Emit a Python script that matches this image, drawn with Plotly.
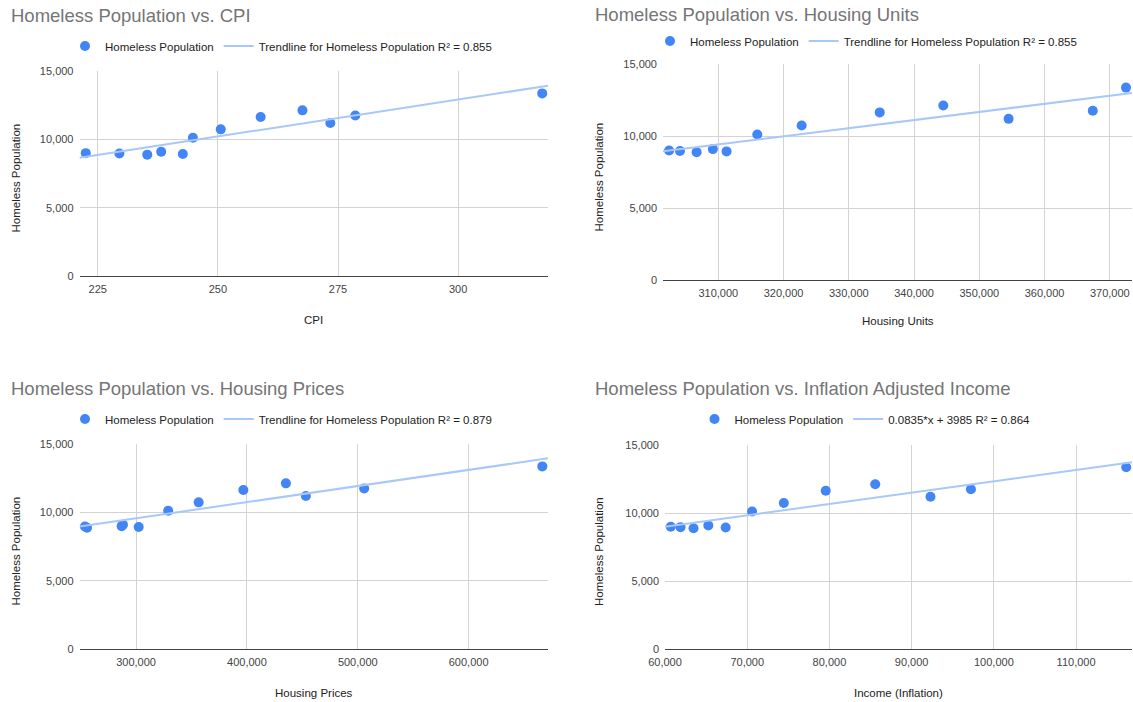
import numpy as np
import plotly.graph_objects as go

# Homeless population by year (same series on every panel)
homeless = [8990, 8960, 8880, 9090, 8930, 10110, 10730, 11640, 12120, 11190, 11750, 13360]

# Explanatory variables
cpi = [222.5, 229.5, 235.3, 238.2, 242.7, 244.8, 250.6, 258.9, 267.6, 273.4, 278.6, 317.5]
housing_units = [302470, 304130, 306680, 309170, 311270, 315980, 322780, 334740,
                 344480, 354490, 367390, 372480]
housing_prices = [287000, 253900, 255800, 288200, 302400, 329000, 356500, 396800,
                  435200, 453200, 505800, 666500]
income_inflation = [60700, 61890, 63470, 65270, 67380, 70590, 74450, 79550,
                    85570, 92290, 97210, 116100]

# Published fit for the income panel
income_slope = 0.0835
income_intercept = 3985

titles = ["Homeless Population vs. CPI",
          "Homeless Population vs. Housing Units",
          "Homeless Population vs. Housing Prices",
          "Homeless Population vs. Inflation Adjusted Income"]
x_titles = ["CPI", "Housing Units", "Housing Prices", "Income (Inflation)"]
trend_labels = ["Trendline for Homeless Population R² = 0.855",
                "Trendline for Homeless Population R² = 0.855",
                "Trendline for Homeless Population R² = 0.879",
                "0.0835*x + 3985 R² = 0.864"]
y_ticks = [0, 5000, 10000, 15000]

W, H = 1133, 702
BLUE = "#4285F4"
TREND = "#a8c7fa"
FONT = "Arial, Liberation Sans, sans-serif"


def px(x):
    return x / W


def py(y):
    return 1 - y / H


# panel geometry in pixels: (left, right, top, bottom)
boxes = [(79.5, 548, 71, 276), (663, 1132, 64, 280),
         (79.5, 548, 444, 649), (665, 1132, 445, 649)]
x_ranges = [[221.2, 318.7], [301530, 373400], [249000, 671600], [60000, 116800]]
x_dticks = [25, 10000, 100000, 10000]
legend_pos = [(281, 46), (866, 41), (281, 419), (865, 419)]
title_pos = [(9, 16), (593, 14), (9, 388), (593, 388)]
xtitle_y = [320, 321, 693, 693]
ytitle_x = [15, 598.5, 15, 599]

xs = [cpi, housing_units, housing_prices, income_inflation]

fig = go.Figure()
annotations = []
layout = {}

for i in range(4):
    sfx = "" if i == 0 else str(i + 1)
    leg = "legend" + sfx
    x = np.array(xs[i], dtype=float)
    y = np.array(homeless, dtype=float)
    if i == 3:
        slope, intercept = income_slope, income_intercept
    else:
        slope, intercept = np.polyfit(x, y, 1)
    xr = np.array(x_ranges[i], dtype=float)

    fig.add_trace(go.Scatter(
        x=x, y=y, mode="markers", name="Homeless Population",
        marker=dict(color=BLUE, size=10),
        xaxis="x" + sfx, yaxis="y" + sfx, legend=leg,
    ))
    fig.add_trace(go.Scatter(
        x=xr, y=slope * xr + intercept, mode="lines", name=trend_labels[i],
        line=dict(color=TREND, width=2),
        xaxis="x" + sfx, yaxis="y" + sfx, legend=leg,
    ))

    l, r, t, b = boxes[i]
    layout["xaxis" + sfx] = dict(
        domain=[px(l), px(r)], range=x_ranges[i], anchor="y" + sfx,
        dtick=x_dticks[i], tick0=0, tickformat=",",
        showgrid=True, gridcolor="#d3d3d3", gridwidth=1,
        showline=True, linecolor="#444444", linewidth=1,
        zeroline=False, ticks="", ticklabelstandoff=3, automargin=False,
        tickfont=dict(family=FONT, size=11, color="#444444"),
    )
    layout["yaxis" + sfx] = dict(
        domain=[py(b), py(t)], range=[0, 15000], anchor="x" + sfx,
        tickvals=y_ticks, tickformat=",",
        showgrid=True, gridcolor="#d3d3d3", gridwidth=1,
        showline=False, zeroline=False, ticks="", ticklabelstandoff=5,
        automargin=False,
        tickfont=dict(family=FONT, size=11, color="#444444"),
    )
    lx, ly = legend_pos[i]
    layout[leg] = dict(
        x=px(lx), y=py(ly), xanchor="center", yanchor="middle",
        orientation="h", bgcolor="rgba(0,0,0,0)",
        font=dict(family=FONT, size=11.5, color="#222222"),
        itemwidth=30,
    )

    tx, ty = title_pos[i]
    annotations.append(dict(
        text=titles[i], x=px(tx), y=py(ty), xref="paper", yref="paper",
        xanchor="left", yanchor="middle", showarrow=False,
        font=dict(family=FONT, size=18.5, color="#757575"),
    ))
    annotations.append(dict(
        text=x_titles[i], x=px((l + r) / 2), y=py(xtitle_y[i]),
        xref="paper", yref="paper", xanchor="center", yanchor="middle",
        showarrow=False, font=dict(family=FONT, size=11.5, color="#222222"),
    ))
    annotations.append(dict(
        text="Homeless Population", x=px(ytitle_x[i]), y=py((t + b) / 2 + 5),
        xref="paper", yref="paper", xanchor="center", yanchor="middle",
        textangle=-90, showarrow=False,
        font=dict(family=FONT, size=11.5, color="#222222"),
    ))

fig.update_layout(
    width=W, height=H,
    margin=dict(l=0, r=0, t=0, b=0, autoexpand=False),
    paper_bgcolor="white", plot_bgcolor="white",
    showlegend=True,
    annotations=annotations,
    **layout,
)

fig.write_html("out.html")
